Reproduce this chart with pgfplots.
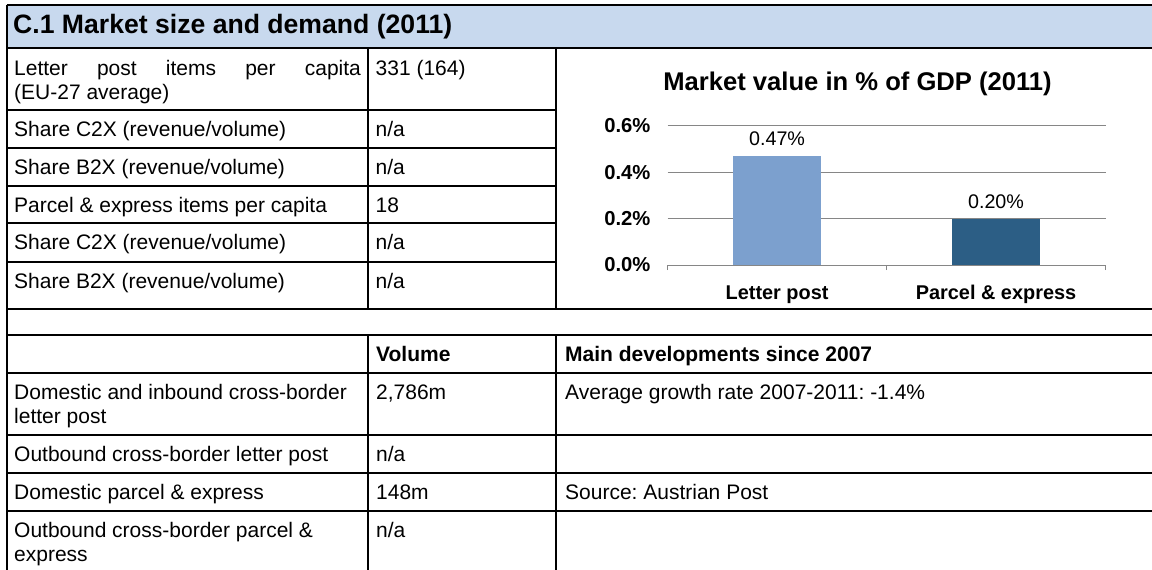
\documentclass[border=0pt]{standalone}
\usepackage{pgfplots}
\pgfplotsset{compat=1.18}
\usepackage{fontspec}
\setmainfont{Liberation Sans}
\frenchspacing

\definecolor{hdr}{RGB}{200,217,238}
\definecolor{barA}{RGB}{124,160,206}
\definecolor{barB}{RGB}{44,94,133}
\definecolor{gridc}{RGB}{134,134,134}

\newcommand\body{\fontsize{21}{24.2}\selectfont}

\begin{document}
\begin{tikzpicture}
\begin{scope}[x=1pt,y=-1pt]
  \useasboundingbox (0,0) rectangle (1152,570);
  \clip (0,0) rectangle (1152,570);
  % header band
  \fill[hdr] (6.7,5) rectangle (1152,48);
  \node[anchor=base west, inner sep=0pt, font=\fontsize{26.6}{30}\selectfont\bfseries] at (13,34) {C.1 Market size and demand (2011)};
  % rules
  \begin{scope}[line width=2.3pt]
    \draw (6.7,5) -- (1152,5);
    \draw (6.7,48) -- (1152,48);
    \foreach \y in {110,148,186,223,262} \draw (6.7,\y) -- (556,\y);
    \foreach \y in {309,335,373,435,473,511} \draw (6.7,\y) -- (1152,\y);
    \draw (6.7,5) -- (6.7,570);
    \draw (368,48) -- (368,309);
    \draw (556,48) -- (556,309);
    \draw (368,335) -- (368,570);
    \draw (556,335) -- (556,570);
  \end{scope}
  % upper cells
  \begin{scope}[every node/.style={anchor=base west, inner sep=0pt, font=\body}]
    \node at (14,75) {\makebox[346.7pt][s]{Letter post items per capita}};
    \node at (14,99) {(EU-27 average)};
    \node at (375.5,75) {331 (164)};
    \node at (14,136.5) {Share C2X (revenue/volume)};
    \node at (375.5,136.5) {n/a};
    \node at (14,174.5) {Share B2X (revenue/volume)};
    \node at (375.5,174.5) {n/a};
    \node at (14,212.5) {Parcel \& express items per capita};
    \node at (375.5,212.5) {18};
    \node at (14,249.5) {Share C2X (revenue/volume)};
    \node at (375.5,249.5) {n/a};
    \node at (14,288) {Share B2X (revenue/volume)};
    \node at (375.5,288) {n/a};
    % lower cells
    \node[font=\body\bfseries] at (376,361) {Volume};
    \node[font=\body\bfseries] at (565,361) {Main developments since 2007};
    \node at (14,399.5) {Domestic and inbound cross-border};
    \node at (14,423.7) {letter post};
    \node at (376,399.5) {2,786m};
    \node at (565,399.5) {Average growth rate 2007-2011: -1.4\%};
    \node at (14,461.5) {Outbound cross-border letter post};
    \node at (376,461.5) {n/a};
    \node at (14,499.5) {Domestic parcel \& express};
    \node at (376,499.5) {148m};
    \node at (565,499.5) {Source: Austrian Post};
    \node at (14,537.5) {Outbound cross-border parcel \&};
    \node at (14,561.7) {express};
    \node at (376,537.5) {n/a};
  \end{scope}
\end{scope}

\begin{axis}[
  at={(667.6pt,-265pt)}, anchor=south west,
  scale only axis, width=437.9pt, height=139.3pt,
  xmin=-0.5, xmax=1.5, ymin=0, ymax=0.6,
  ybar, bar width=87.5pt,
  xtick={0,1}, xticklabels={Letter post, Parcel \& express},
  ytick={0,0.2,0.4,0.6}, yticklabels={0.0\%,0.2\%,0.4\%,0.6\%},
  axis x line*=bottom, axis y line*=left,
  x axis line style={gridc, line width=1pt, -},
  y axis line style={draw=none},
  ymajorgrids, grid style={gridc, line width=1pt},
  xtick style={draw=none}, ytick style={draw=none},
  extra x ticks={-0.5,0.5,1.5}, extra x tick labels={},
  extra x tick style={grid=none, xtick style={draw=gridc, line width=1pt}, major tick length=5pt, tick align=outside},
  yticklabel style={font=\fontsize{20.2}{22}\selectfont\bfseries, anchor=east, inner sep=0pt, xshift=-17pt},
  xticklabel style={font=\fontsize{19.9}{22}\selectfont\bfseries, anchor=base, inner sep=0pt, yshift=-30pt},
  title={Market value in \% of GDP (2011)},
  title style={font=\fontsize{25.6}{28}\selectfont\bfseries, at={(0.5,1)}, anchor=base, inner sep=0pt, yshift=29pt, xshift=-29pt},
  nodes near coords, point meta=explicit symbolic,
  nodes near coords style={font=\fontsize{19.7}{22}\selectfont, anchor=base, inner sep=0pt, yshift=10pt},
  clip=false,
]
\addplot[fill=barA, draw=none, bar shift=0pt] coordinates {(0,0.47) [0.47\%]};
\addplot[fill=barB, draw=none, bar shift=0pt] coordinates {(1,0.20) [0.20\%]};
\end{axis}
\end{tikzpicture}
\end{document}
